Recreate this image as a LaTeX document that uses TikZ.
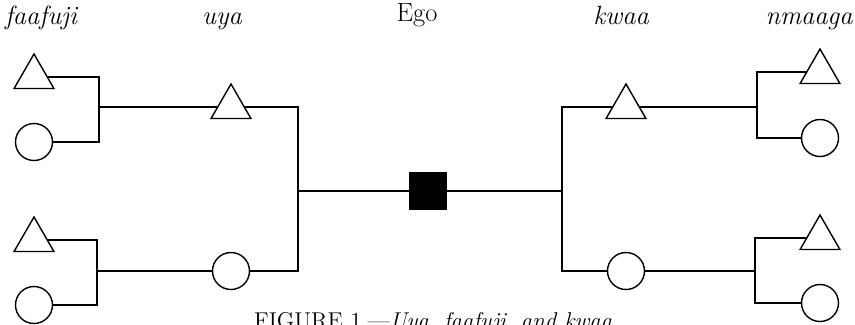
\documentclass[tikz,border=0pt]{standalone}
\usepackage{tikz}
\usetikzlibrary{shapes.geometric, positioning}

\begin{document}
\begin{tikzpicture}[
  on grid,
  male/.style={regular polygon, regular polygon sides=3, minimum size=0.92cm, inner sep=0pt, draw=black, line width=0.8pt},
  female/.style={circle, minimum size=0.74cm, inner sep=0pt, draw=black, line width=0.8pt},
  egobox/.style={rectangle, minimum size=0.74cm, inner sep=0pt, draw=black, fill=black},
  lab/.style={anchor=base, font=\fontsize{15}{18}\selectfont},
  kin/.style={line width=0.8pt}
]
  \clip (-8.56,-2.66) rectangle (8.54,3.82);

  % Ego
  \node (ego) [egobox] at (0,0) {};

  % Kiri: uya
  \node (uyaT) [male, above left=1.68cm and 3.94cm of ego] {};
  \node (uyaC) [female, below left=1.60cm and 3.94cm of ego] {};
  \node (faT1) [male, above left=0.60cm and 3.94cm of uyaT] {};
  \node (faC1) [female, below left=0.70cm and 3.94cm of uyaT] {};
  \node (faT2) [male, above left=0.62cm and 3.94cm of uyaC] {};
  \node (faC2) [female, below left=0.68cm and 3.94cm of uyaC] {};

  % Kanan: kwaa
  \node (kwaaT) [male, above right=1.68cm and 3.96cm of ego] {};
  \node (kwaaC) [female, below right=1.60cm and 3.96cm of ego] {};
  \node (nmT1) [male, above right=0.70cm and 3.88cm of kwaaT] {};
  \node (nmC1) [female, below right=0.62cm and 3.88cm of kwaaT] {};
  \node (nmT2) [male, above right=0.66cm and 3.88cm of kwaaC] {};
  \node (nmC2) [female, below right=0.64cm and 3.88cm of kwaaC] {};

  % Titik cabang
  \coordinate (jm1) at ([xshift=-2.60cm]ego.center);
  \coordinate (jm2) at ([xshift=2.68cm]ego.center);
  \coordinate (jl1) at ([xshift=-2.64cm]uyaT.center);
  \coordinate (jl2) at ([xshift=-2.68cm]uyaC.center);
  \coordinate (jr1) at ([xshift=2.62cm]kwaaT.center);
  \coordinate (jr2) at ([xshift=2.58cm]kwaaC.center);

  % Label
  \node (lFa) [lab] at ([shift={(-7.74,3.34)}]ego.center) {\itshape faafuji};
  \node (lUya) [lab] at ([shift={(-4.12,3.34)}]ego.center) {\itshape uya};
  \node (lEgo) [lab] at ([shift={(-0.22,3.40)}]ego.center) {Ego};
  \node (lKwaa) [lab] at ([shift={(3.86,3.34)}]ego.center) {\itshape kwaa};
  \node (lNm) [lab] at ([shift={(7.62,3.34)}]ego.center) {\itshape nmaaga};

  % Garis
  \draw [kin] (faT1.east) -| (jl1) |- (faC1.east);
  \draw [kin] (jl1) -- (uyaT.west);
  \draw [kin] (faT2.east) -| (jl2) |- (faC2.east);
  \draw [kin] (jl2) -- (uyaC.west);
  \draw [kin] (uyaT.east) -| (jm1) |- (uyaC.east);
  \draw [kin] (jm1) -- (ego.west);
  \draw [kin] (ego.east) -- (jm2);
  \draw [kin] (kwaaT.west) -| (jm2) |- (kwaaC.west);
  \draw [kin] (kwaaT.east) -- (jr1);
  \draw [kin] (nmT1.west) -| (jr1) |- (nmC1.west);
  \draw [kin] (kwaaC.east) -- (jr2);
  \draw [kin] (nmT2.west) -| (jr2) |- (nmC2.west);

  % Keterangan
  \node (cap) [anchor=base west, font=\fontsize{13}{15}\selectfont] at ([shift={(-3.60,-2.74)}]ego.center) {FIGURE 1.---\textit{Uya, faafuji, and kwaa}};
\end{tikzpicture}
\end{document}
